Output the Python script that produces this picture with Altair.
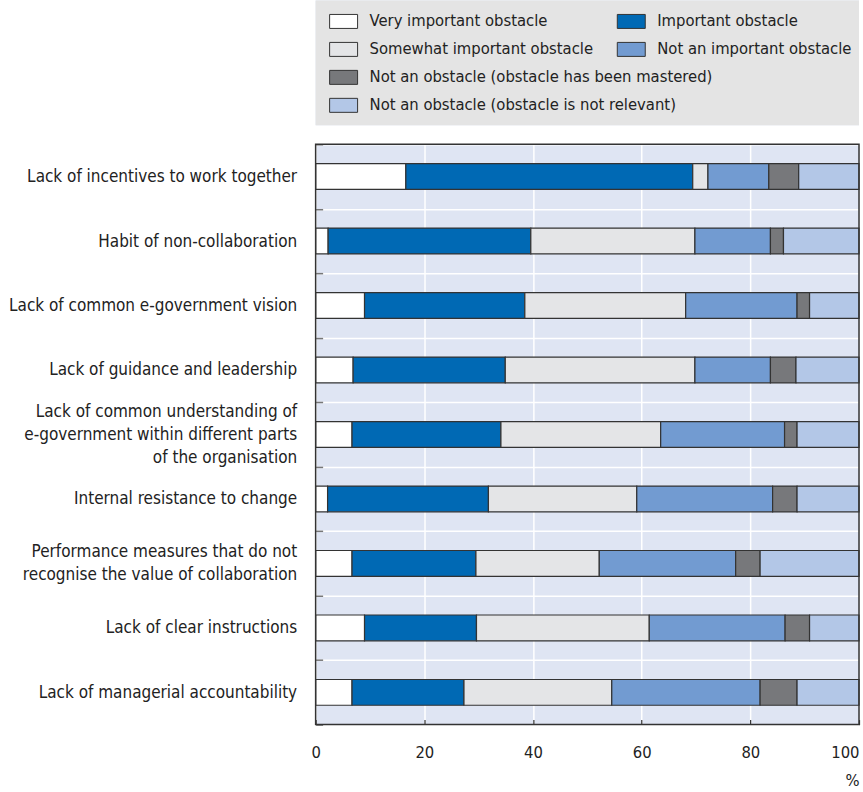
import altair as alt
import pandas as pd

# Obstacles to collaboration, share of respondents (%)
categories = [
    "Lack of incentives to work together",
    "Habit of non-collaboration",
    "Lack of common e-government vision",
    "Lack of guidance and leadership",
    "Lack of common understanding of\ne-government within different parts\nof the organisation",
    "Internal resistance to change",
    "Performance measures that do not\nrecognise the value of collaboration",
    "Lack of clear instructions",
    "Lack of managerial accountability",
]

series = [
    "Very important obstacle",
    "Important obstacle",
    "Somewhat important obstacle",
    "Not an important obstacle",
    "Not an obstacle (obstacle has been mastered)",
    "Not an obstacle (obstacle is not relevant)",
]

very_important = [16.6, 2.3, 9.0, 6.9, 6.7, 2.2, 6.7, 9.0, 6.7]
important = [52.8, 37.3, 29.5, 28.0, 27.4, 29.6, 22.8, 20.6, 20.6]
somewhat_important = [2.8, 30.2, 29.6, 34.9, 29.4, 27.3, 22.7, 31.8, 27.2]
not_important = [11.2, 13.9, 20.5, 13.9, 22.8, 25.0, 25.1, 25.0, 27.3]
mastered = [5.5, 2.4, 2.3, 4.7, 2.3, 4.5, 4.5, 4.5, 6.8]
not_relevant = [11.1, 13.9, 9.1, 11.6, 11.4, 11.4, 18.2, 9.1, 11.4]

x_ticks = [0, 20, 40, 60, 80, 100]

colors = ["#ffffff", "#0069b4", "#e4e5e7", "#729bd1", "#77787b", "#b3c7e7"]

FONT = "Liberation Sans Narrow, DejaVu Sans Condensed, Roboto, sans-serif"
TEXT = "#222222"
EDGE = "#333333"

values = [very_important, important, somewhat_important, not_important, mastered, not_relevant]
rows = []
for k, (name, vals) in enumerate(zip(series, values)):
    for cat, v in zip(categories, vals):
        rows.append({"obstacle": cat, "response": name, "rank": k, "share": v})
df = pd.DataFrame(rows)

color_scale = alt.Scale(domain=series, range=colors)

# ---- legend panel: two columns for the short labels, long ones on their own rows
legend_slots = [(0, 0), (0, 1), (1, 0), (1, 1), (2, 0), (3, 0)]  # (row, column)
leg = pd.DataFrame({
    "response": series,
    "row": [r for r, c in legend_slots],
    "col": [c for r, c in legend_slots],
})
leg_x = alt.X("col:O", scale=alt.Scale(type="point", domain=[0, 1], range=[28, 316], padding=0), axis=None)
leg_y = alt.Y("row:O", scale=alt.Scale(type="point", domain=[0, 1, 2, 3], range=[21, 105], padding=0), axis=None)

leg_bg = alt.Chart(alt.Data(values=[{}])).mark_rect(color="#e4e4e4").encode(
    x=alt.value(0), x2=alt.value("width"), y=alt.value(0), y2=alt.value("height")
)
leg_sym = alt.Chart(leg).mark_point(
    shape="M-1,-0.5H1V0.5H-1Z", size=784, filled=True, opacity=1,
    stroke=EDGE, strokeWidth=1,
).encode(x=leg_x, y=leg_y, color=alt.Color("response:N", scale=color_scale, legend=None))
leg_txt = alt.Chart(leg).mark_text(
    align="left", baseline="middle", dx=26, font=FONT, fontSize=16.5, color=TEXT
).encode(x=leg_x, y=leg_y, text="response:N")

legend_panel = alt.layer(leg_bg, leg_sym, leg_txt).properties(width=544, height=125)

# multi-line labels are lifted so that the block is centred on its bar
n_lines = "length(split(datum.label, '\\n'))"
label_lift = {
    "condition": [
        {"test": f"{n_lines} == 3", "value": -23},
        {"test": f"{n_lines} == 2", "value": -11.5},
    ],
    "value": 0,
}

# ---- stacked bars
bars = alt.Chart(df).mark_bar(
    height=alt.RelativeBandSize(band=0.4), stroke=EDGE, strokeWidth=1.2
).encode(
    x=alt.X(
        "share:Q", stack="zero",
        scale=alt.Scale(domain=[0, 100], nice=False),
        axis=alt.Axis(
            values=x_ticks, format="d", title="%",
            titleAnchor="end", titleFont=FONT, titleFontSize=16.5,
            titleFontWeight="normal", titleColor=TEXT, titlePadding=11,
            labelFont=FONT, labelFontSize=16.5, labelColor=TEXT, labelPadding=25,
            labelAlign={"condition": {"test": "datum.value == 100", "value": "right"}, "value": "center"},
            grid=True, gridColor="white", gridWidth=1.5,
            domain=False, ticks=True, tickColor=EDGE, tickWidth=1.2,
            tickSize={"expr": "-5"},
        ),
    ),
    y=alt.Y(
        "obstacle:N", sort=categories,
        scale=alt.Scale(paddingInner=0, paddingOuter=0),
        axis=alt.Axis(
            title=None, labelExpr="split(datum.label, '\\n')",
            labelFont=FONT, labelFontSize=17, labelLineHeight=23, labelColor=TEXT,
            labelOffset=label_lift,
            labelPadding=26, labelLimit=400, tickBand="extent",
            grid=True, gridColor="white", gridWidth=1.5,
            domain=False, ticks=True, tickColor="#777777", tickWidth=1.5,
            tickSize={"expr": "-7"}, minExtent=316, maxExtent=316,
        ),
    ),
    color=alt.Color("response:N", scale=color_scale, legend=None),
    order=alt.Order("rank:Q"),
)

frame = alt.Chart(alt.Data(values=[{}])).mark_rect(
    filled=False, color=EDGE, strokeWidth=1.5
).encode(x=alt.value(0), x2=alt.value("width"), y=alt.value(0), y2=alt.value("height"))

main = alt.layer(bars, frame).properties(width=544, height=581)

chart = alt.vconcat(legend_panel, main, spacing=10).properties(
    padding={"left": 0, "top": 0, "right": 3, "bottom": 4}
).configure_view(fill="#dfe5f3", stroke=None)

chart.save("out.html", embed_options={"renderer": "svg", "actions": False})
